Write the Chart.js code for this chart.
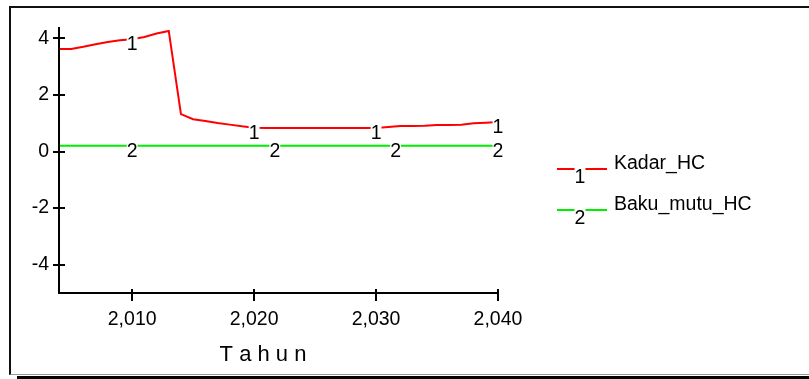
<!DOCTYPE html>
<html>
<head>
<meta charset="utf-8">
<script src="https://cdn.jsdelivr.net/npm/chart.js@4"></script>
<style>
  html, body { margin: 0; padding: 0; background: #fff; }
  body { width: 809px; height: 379px; position: relative; overflow: hidden; }
  #frame { position: absolute; left: 9px; top: 6px; width: 860px; height: 369px; box-sizing: border-box;
           border-top: 2px solid #111; border-left: 2px solid #111; border-bottom: 1px solid #999; }
  #shadow { position: absolute; left: 17px; top: 376px; width: 800px; height: 3px; background: #000; }
  #c { position: absolute; left: 0; top: 0; }
</style>
</head>
<body>
<div id="frame"></div>
<div id="shadow"></div>
<canvas id="c" width="809" height="379"></canvas>
<script>
// ---- data ----
const years = [2004, 2005, 2006, 2007, 2008, 2009, 2010, 2011, 2012, 2013, 2014, 2015, 2016, 2017, 2018, 2019, 2020, 2021, 2022,
               2023, 2024, 2025, 2026, 2027, 2028, 2029, 2030, 2031, 2032, 2033, 2034, 2035, 2036, 2037, 2038, 2039, 2040];
const kadarHC = [3.62, 3.62, 3.70, 3.79, 3.87, 3.93, 3.97, 4.05, 4.17, 4.26, 1.32, 1.14, 1.08, 1.01, 0.95, 0.89, 0.84, 0.83, 0.83,
                 0.83, 0.83, 0.83, 0.83, 0.83, 0.83, 0.83, 0.83, 0.87, 0.90, 0.90, 0.91, 0.94, 0.94, 0.95, 1.00, 1.02, 1.04];
const bakuMutuHC = [0.2, 0.2, 0.2, 0.2, 0.2, 0.2, 0.2, 0.2, 0.2, 0.2, 0.2, 0.2, 0.2, 0.2, 0.2, 0.2, 0.2, 0.2, 0.2,
                    0.2, 0.2, 0.2, 0.2, 0.2, 0.2, 0.2, 0.2, 0.2, 0.2, 0.2, 0.2, 0.2, 0.2, 0.2, 0.2, 0.2, 0.2];
const seriesNames = ['Kadar_HC', 'Baku_mutu_HC'];
const seriesMarks = ['1', '2'];
const markYears = [[2010, 2020, 2030, 2040], [2010, 2021.7, 2031.6, 2040]];
const xTickValues = [2010, 2020, 2030, 2040];
const yTickValues = [-4, -2, 0, 2, 4];
const xTitle = 'T a h u n';

const FONT = '"Liberation Sans", Arial, sans-serif';
const FS = 19.5;

function toXY(vals) { return years.map((yr, i) => ({ x: yr, y: vals[i] })); }
function interp(data, x) {
  for (let i = 0; i < data.length - 1; i++) {
    if (x >= data[i].x && x <= data[i + 1].x) {
      const t = (x - data[i].x) / (data[i + 1].x - data[i].x);
      return data[i].y + t * (data[i + 1].y - data[i].y);
    }
  }
  return data[data.length - 1].y;
}

const decor = {
  id: 'decor',
  afterDatasetsDraw(chart) {
    const ctx = chart.ctx;
    const xs = chart.scales.x, ys = chart.scales.y;
    const L = chart.chartArea.left, T = chart.chartArea.top, B = chart.chartArea.bottom, R = chart.chartArea.right;
    ctx.save();
    ctx.strokeStyle = '#000';
    ctx.lineWidth = 2;
    ctx.beginPath();
    ctx.moveTo(L, T); ctx.lineTo(L, B); ctx.lineTo(R, B);
    ctx.stroke();
    ctx.beginPath();
    ys.ticks.forEach(t => { const p = Math.round(ys.getPixelForValue(t.value)); ctx.moveTo(L - 6, p); ctx.lineTo(L + 6, p); });
    xs.ticks.forEach(t => { const p = Math.round(xs.getPixelForValue(t.value)); ctx.moveTo(p, B - 4); ctx.lineTo(p, B + 8); });
    ctx.stroke();

    ctx.font = FS + 'px ' + FONT;
    ctx.textAlign = 'center';
    ctx.textBaseline = 'alphabetic';
    chart.data.datasets.forEach((ds, di) => {
      markYears[di].forEach(yr => {
        const px = xs.getPixelForValue(yr);
        const py = ys.getPixelForValue(interp(ds.data, yr));
        const base = py + 11;
        const w = ctx.measureText(seriesMarks[di]).width;
        ctx.fillStyle = '#fff';
        ctx.fillRect(px - w / 2, base - 15, w, 17);
        ctx.fillStyle = '#000';
        ctx.fillText(seriesMarks[di], px, base);
      });
    });

    // legend
    const legY = [169, 210];
    chart.data.datasets.forEach((ds, di) => {
      const y = legY[di];
      ctx.strokeStyle = ds.borderColor;
      ctx.lineWidth = 2;
      ctx.beginPath();
      ctx.moveTo(557, y); ctx.lineTo(607, y);
      ctx.stroke();
      const w = ctx.measureText(seriesMarks[di]).width;
      ctx.fillStyle = '#fff';
      ctx.fillRect(580 - w / 2, y - 4, w, 18);
      ctx.fillStyle = '#000';
      ctx.textAlign = 'center';
      ctx.fillText(seriesMarks[di], 580, y + 14);
      ctx.textAlign = 'left';
      ctx.fillText(ds.label, 614, y);
      ctx.textAlign = 'center';
    });

    // x axis title
    ctx.font = '22px ' + FONT;
    ctx.textAlign = 'center';
    ctx.textBaseline = 'middle';
    ctx.fillStyle = '#000';
    ctx.fillText(xTitle, 263, 355);
    ctx.restore();
  }
};

new Chart(document.getElementById('c'), {
  type: 'line',
  data: {
    datasets: [
      { label: seriesNames[0], data: toXY(kadarHC), borderColor: '#ff0000', borderWidth: 2, pointRadius: 0, tension: 0, fill: false },
      { label: seriesNames[1], data: toXY(bakuMutuHC), borderColor: '#00ee00', borderWidth: 2, pointRadius: 0, tension: 0, fill: false }
    ]
  },
  options: {
    responsive: false,
    animation: false,
    devicePixelRatio: 1,
    layout: { padding: { left: 0, top: 27, right: 311, bottom: 0 } },
    plugins: { legend: { display: false }, tooltip: { enabled: false }, title: { display: false } },
    scales: {
      x: {
        type: 'linear', min: 2004, max: 2040,
        grid: { display: false, tickLength: 0 }, border: { display: false },
        afterBuildTicks: s => { s.ticks = xTickValues.map(v => ({ value: v })); },
        afterFit: s => { s.height = 86; },
        ticks: { color: '#000', font: { family: FONT, size: FS }, padding: 15, maxRotation: 0,
                 callback: v => v.toLocaleString('en-US') }
      },
      y: {
        type: 'linear', min: -5, max: 4.4,
        grid: { display: false, tickLength: 0 }, border: { display: false },
        afterBuildTicks: s => { s.ticks = yTickValues.map(v => ({ value: v })); },
        afterFit: s => { s.width = 59; },
        ticks: { color: '#000', font: { family: FONT, size: FS }, padding: 10 }
      }
    }
  },
  plugins: [decor]
});
</script>
</body>
</html>
